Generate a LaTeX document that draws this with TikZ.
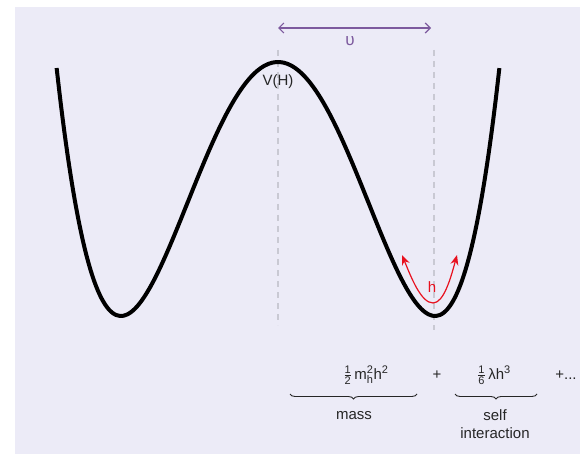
\documentclass[tikz,border=0pt]{standalone}
\usepackage{fontspec}
\setmainfont{Liberation Sans}
\usetikzlibrary{arrows.meta,decorations.pathreplacing}
\definecolor{bg}{HTML}{ECEBF7}
\definecolor{vpurple}{HTML}{7D5A9E}
\definecolor{dgray}{HTML}{C9C9D3}
\definecolor{txt}{HTML}{262626}
\definecolor{hred}{HTML}{E8101E}
\tikzset{
  guide/.style={draw=dgray, line width=1.3pt, dash pattern=on 6pt off 5pt},
  lbl/.style={font=\fontsize{15}{18}\selectfont, text=txt, inner sep=0pt, align=center},
  brc/.style={draw=txt, line width=0.9pt, decorate, decoration={brace, mirror, amplitude=5pt}},
}
\begin{document}
\begin{tikzpicture}[x=1pt,y=-1pt]
\useasboundingbox (0,0) rectangle (580,454);
\fill[bg] (15,7) rectangle (580,454);
% guides
\coordinate (g1t) at (278,50);
\coordinate (g1b) at (278,325);
\coordinate (g2t) at (434,50);
\coordinate (g2b) at (434,330);
\draw[guide] (g1t) -- (g1b);
\draw[guide] (g2t) -- (g2b);
% potential
\draw[black, line width=4pt, line join=round] plot[domain=-1.41:1.41, samples=120, smooth] ({278+157*\x}, {316-254*(\x*\x-1)^2});
% vev arrow
\coordinate (va) at (278,28);
\coordinate (vb) at (431,28);
\draw[vpurple, line width=1.2pt, {Straight Barb[length=5pt,width=10pt]}-{Straight Barb[length=5pt,width=10pt]}] (va) -- (vb);
\node[lbl, text=vpurple, font=\fontsize{17}{18}\selectfont] (ups) at (350,41) {υ};
\node[lbl] (vh) at (278,82) {V(H)};
% h oscillation
\coordinate (hl) at (402,255);
\coordinate (hm) at (433,303);
\coordinate (hr) at (457,255);
\draw[hred, line width=1.2pt, {Stealth[length=10pt,width=8pt]}-{Stealth[length=10pt,width=8pt]}] (hl) .. controls (411,277) and (421,303) .. (hm) .. controls (444,303) and (451,277) .. (hr);
\node[lbl, text=hred] (h) at (432,287) {h};
% expansion
\node[lbl] (mterm) at (366,375) {$\frac{\mbox{\fontsize{11}{11}\selectfont 1}}{\mbox{\fontsize{11}{11}\selectfont 2}}$\,m$^{\mbox{\fontsize{11}{11}\selectfont 2}}_{\mbox{\fontsize{11}{11}\selectfont h}}$h$^{\mbox{\fontsize{11}{11}\selectfont 2}}$};
\node[lbl] (plus1) at (437,375) {+};
\node[lbl] (sterm) at (494,375) {$\frac{\mbox{\fontsize{11}{11}\selectfont 1}}{\mbox{\fontsize{11}{11}\selectfont 6}}$\,λh$^{\mbox{\fontsize{11}{11}\selectfont 3}}$};
\node[lbl] (plus2) at (566,375) {+...};
\coordinate (m1) at (290,394);
\coordinate (m2) at (417,394);
\coordinate (s1) at (455,394);
\coordinate (s2) at (537,394);
\draw[brc] (m1) -- (m2);
\draw[brc] (s1) -- (s2);
\node[lbl] (mass) at (354,416) {mass};
\node[lbl] (self) at (495,424) {self\\interaction};
\end{tikzpicture}
\end{document}
